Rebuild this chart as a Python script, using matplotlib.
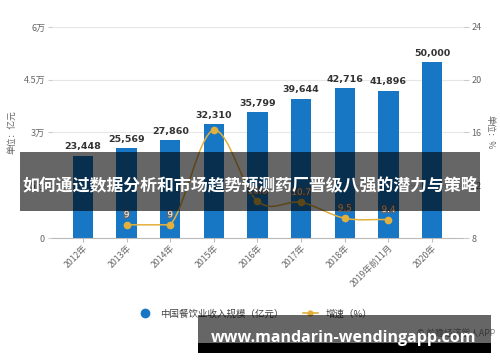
import numpy as np
import matplotlib
matplotlib.use("Agg")
import matplotlib.pyplot as plt
from matplotlib.patches import Rectangle
from matplotlib.path import Path
from matplotlib.patches import PathPatch
from matplotlib.lines import Line2D
import matplotlib.patheffects as pe

plt.rcParams['font.family'] = ['Noto Sans CJK SC', 'DejaVu Sans']

# data
years = ['2012年', '2013年', '2014年', '2015年', '2016年', '2017年', '2018年', '2019年前11月', '2020年']
revenue = [23448, 25569, 27860, 32310, 35799, 39644, 42716, 41896, 50000]
growth_idx = [1, 2, 3, 4, 5, 6, 7]
growth = [9.0, 9.0, 16.2, 10.8, 10.7, 9.5, 9.4]
growth_labels = ['9', '9', '', '10.8', '10.7', '9.5', '9.4']
left_ticks = [0, 15000, 30000, 45000, 60000]
left_labels = ['0', '1.5万', '3万', '4.5万', '6万']
right_ticks = [8, 12, 16, 20, 24]

blue = '#1877c4'
gold = '#e3b03e'
gray_txt = '#666666'

fig = plt.figure(figsize=(5, 3.62), dpi=100)
ax = fig.add_axes([0.104, 0.3425, 0.822, 0.583])
x = np.arange(len(years))

ax.set_xlim(-0.71, len(years) - 1 + 0.71)
ax.set_ylim(0, 60000)
ax.set_yticks(left_ticks)
ax.set_yticklabels(left_labels)
ax.grid(axis='y', color='#e6e6e6', linewidth=0.8)
ax.set_axisbelow(True)
for s in ['top', 'right', 'left']:
    ax.spines[s].set_visible(False)
ax.spines['bottom'].set_color('#bbbbbb')
ax.tick_params(axis='y', colors='#cccccc', labelcolor=gray_txt, labelsize=6.5, length=3, pad=2)
ax.tick_params(axis='x', colors='#bbbbbb', labelcolor=gray_txt, labelsize=6.3, length=3, pad=1)
ax.set_xticks(x)
ax.set_xticklabels(years, rotation=45, ha='right', rotation_mode='anchor')

bars = ax.bar(x, revenue, width=0.47, color=blue, zorder=2)
for xi, v in zip(x, revenue):
    ax.text(xi, v + 1200, f'{v:,}', ha='center', va='bottom', fontsize=6.8,
            fontweight='bold', color='#333333', family=['DejaVu Sans'])

ax.text(-0.097, 0.5, '单位：亿元', transform=ax.transAxes, rotation=90, ha='center', va='center',
        fontsize=6.3, color=gray_txt)

ax2 = ax.twinx()
ax2.set_ylim(8, 24)
ax2.set_yticks(right_ticks)
for s in ['top', 'right', 'left', 'bottom']:
    ax2.spines[s].set_visible(False)
ax2.tick_params(axis='y', colors='#cccccc', labelcolor=gray_txt, labelsize=6.5, length=4, pad=2)
ax2.text(1.065, 0.5, '单位：%', transform=ax2.transAxes, rotation=270, ha='center', va='center',
         fontsize=6.3, color=gray_txt)

# smoothed growth line (bezier through the data points, control points clamped)
gx = np.array(growth_idx, dtype=float)
gy = np.array(growth, dtype=float)
lo, hi = gy.min(), gy.max()
k = 0.35
verts = [(gx[0], gy[0])]
codes = [Path.MOVETO]
for i in range(len(gx) - 1):
    p0 = max(i - 1, 0)
    p3 = min(i + 2, len(gx) - 1)
    c1y = np.clip(gy[i] + (gy[i + 1] - gy[p0]) * k / max(i + 1 - p0, 1), lo, hi)
    c2y = np.clip(gy[i + 1] - (gy[p3] - gy[i]) * k / max(p3 - i, 1), lo, hi)
    verts += [(gx[i] + k, c1y), (gx[i + 1] - k, c2y), (gx[i + 1], gy[i + 1])]
    codes += [Path.CURVE4, Path.CURVE4, Path.CURVE4]
ax2.add_patch(PathPatch(Path(verts, codes), facecolor='none', edgecolor=gold, lw=1.1, zorder=3))
ax2.plot(gx, gy, 'o', color=gold, markersize=4.5, zorder=4)
for xi, yi, lab in zip(gx, gy, growth_labels):
    if lab:
        ax2.annotate(lab, (xi, yi), xytext=(0, 4), textcoords='offset points', ha='center',
                     va='bottom', fontsize=6.3, color='white', family=['DejaVu Sans'],
                     path_effects=[pe.withStroke(linewidth=1.8, foreground='#666666')], zorder=5)

# legend
handles = [Line2D([], [], marker='o', color=blue, linestyle='none', markersize=6),
           Line2D([], [], marker='o', color=gold, linewidth=1.2, markersize=3.5)]
fig.legend(handles, ['中国餐饮业收入规模（亿元）', '增速（%）'], loc='center',
           bbox_to_anchor=(0.51, 0.133), ncol=2, frameon=False, fontsize=6.8,
           handlelength=1.6, columnspacing=2.0, labelcolor='#444444')
fig.text(0.99, 0.08, '© 前瞻经济学人APP', ha='right', va='center', fontsize=6.3, color='#888888')

# overlay bands
fig.patches.append(Rectangle((0.04, 0.4171), 0.92, 0.163, transform=fig.transFigure,
                             facecolor='black', alpha=0.6, edgecolor='none', zorder=10))
fig.text(0.5, 0.489, '如何通过数据分析和市场趋势预测药厂晋级八强的潜力与策略', ha='center', va='center',
         fontsize=12.2, fontweight='bold', color='white', zorder=11)

fig.patches.append(Rectangle((0.396, 0.0525), 0.586, 0.0773, transform=fig.transFigure,
                             facecolor='black', alpha=0.6, edgecolor='none', zorder=10))
fig.patches.append(Rectangle((0.396, 0.0249), 0.586, 0.0276, transform=fig.transFigure,
                             facecolor='black', edgecolor='none', zorder=10))
fig.text(0.688, 0.0552, 'www.mandarin-wendingapp.com', ha='center', va='baseline',
         fontsize=11.5, fontweight='bold', color='white', family=['Open Sans', 'DejaVu Sans'], zorder=11)

fig.savefig('out.png', dpi=100)
